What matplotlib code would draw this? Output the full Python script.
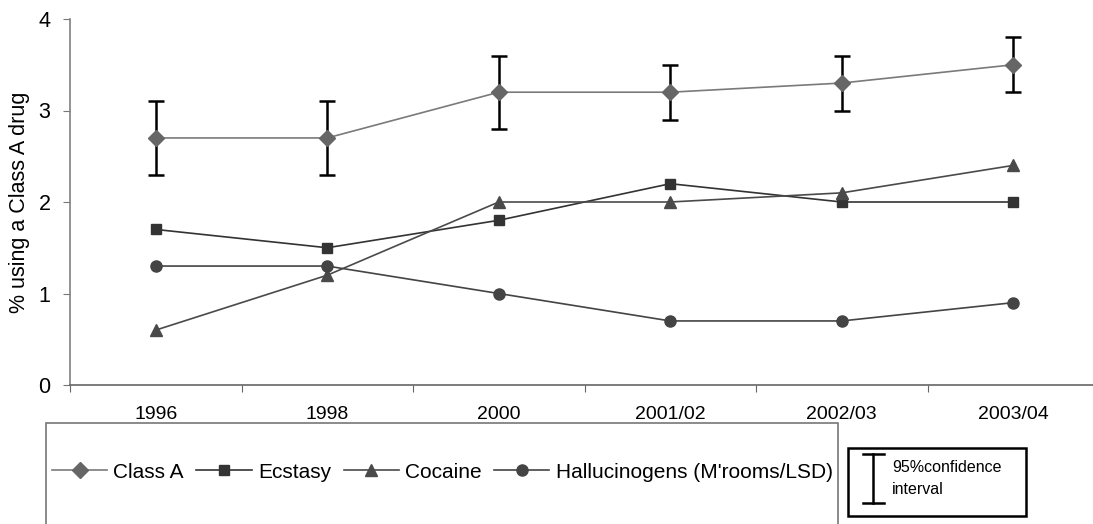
import matplotlib
matplotlib.use("Agg")
import matplotlib.pyplot as plt
from matplotlib.patches import Rectangle
from matplotlib.lines import Line2D

plt.rcParams['font.family'] = ['Liberation Sans', 'DejaVu Sans']

# survey years and prevalence (%) of use in the last year
years = ['1996', '1998', '2000', '2001/02', '2002/03', '2003/04']
class_a = [2.7, 2.7, 3.2, 3.2, 3.3, 3.5]
class_a_low = [2.3, 2.3, 2.8, 2.9, 3.0, 3.2]
class_a_high = [3.1, 3.1, 3.6, 3.5, 3.6, 3.8]
ecstasy = [1.7, 1.5, 1.8, 2.2, 2.0, 2.0]
cocaine = [0.6, 1.2, 2.0, 2.0, 2.1, 2.4]
hallucinogens = [1.3, 1.3, 1.0, 0.7, 0.7, 0.9]

W, H = 1093, 524
fig = plt.figure(figsize=(W / 100, H / 100), dpi=100)

def fx(px):
    return px / W

def fy(py):
    return 1 - py / H

ax = fig.add_axes([fx(70), fy(385), fx(1029), 366 / H])
x = list(range(len(years)))

# confidence interval around Class A
yerr = [[c - lo for c, lo in zip(class_a, class_a_low)],
        [hi - c for c, hi in zip(class_a, class_a_high)]]
ax.errorbar(x, class_a, yerr=yerr, fmt='none', ecolor='black',
            elinewidth=1.8, capsize=5.5, capthick=1.8, zorder=2)

l1, = ax.plot(x, class_a, color='#7a7a7a', lw=1.2, marker='D', ms=8,
              mfc='#666666', mec='#666666', label='Class A', zorder=3)
l2, = ax.plot(x, ecstasy, color='#333333', lw=1.2, marker='s', ms=7.5,
              mfc='#333333', mec='#333333', label='Ecstasy', zorder=3)
l3, = ax.plot(x, cocaine, color='#4a4a4a', lw=1.2, marker='^', ms=8.5,
              mfc='#4a4a4a', mec='#4a4a4a', label='Cocaine', zorder=3)
l4, = ax.plot(x, hallucinogens, color='#444444', lw=1.2, marker='o', ms=8,
              mfc='#444444', mec='#444444',
              label="Hallucinogens (M'rooms/LSD)", zorder=3)

ax.set_xlim(-0.5, len(years) - 0.5)
ax.set_ylim(0, 4)
ax.set_yticks([0, 1, 2, 3, 4])
ax.tick_params(axis='y', labelsize=15.5, length=5, color='#777777', pad=9)

# ticks between categories, labels centred under each category
ax.set_xticks([i - 0.5 for i in range(len(years) + 1)])
ax.set_xticklabels([])
ax.set_xticks(x, minor=True)
ax.set_xticklabels(years, minor=True)
ax.tick_params(axis='x', which='major', length=5, color='#666666')
ax.tick_params(axis='x', which='minor', length=0, labelsize=14, pad=15)

for side in ['top', 'right']:
    ax.spines[side].set_visible(False)
ax.spines['left'].set_color('#808080')
ax.spines['bottom'].set_color('#666666')
ax.spines['left'].set_linewidth(1.2)
ax.spines['bottom'].set_linewidth(1.2)

ax.set_ylabel('% using a Class A drug', fontsize=15.5)
ax.yaxis.set_label_coords(-(70 - 30) / 1029, 0.5)

# series legend in its own box
fig.add_artist(Rectangle((fx(45.5), fy(560)), fx(838 - 45.5), (560 - 423) / H,
                         transform=fig.transFigure, fill=False,
                         edgecolor='#777777', lw=1.2, clip_on=False))
fig.legend(handles=[l1, l2, l3, l4], loc='center left',
           bbox_to_anchor=(fx(52), fy(472)), ncol=4, frameon=False,
           fontsize=15, handlelength=2.65, handletextpad=0.3,
           columnspacing=0.6, borderpad=0, borderaxespad=0)

# key for the error bars
fig.add_artist(Rectangle((fx(848), fy(516)), fx(1025.5 - 848), (516 - 447.5) / H,
                         transform=fig.transFigure, fill=False,
                         edgecolor='black', lw=1.8))
ex = fx(873)
fig.add_artist(Line2D([ex, ex], [fy(454), fy(503)], transform=fig.transFigure,
                      color='black', lw=1.8))
for yy in (454, 503):
    fig.add_artist(Line2D([fx(863), fx(884)], [fy(yy), fy(yy)],
                          transform=fig.transFigure, color='black', lw=1.8))
fig.text(fx(892), fy(467), '95%confidence', fontsize=11.5, va='center', ha='left')
fig.text(fx(892), fy(489), 'interval', fontsize=11.5, va='center', ha='left')

fig.savefig('out.png', dpi=100)
